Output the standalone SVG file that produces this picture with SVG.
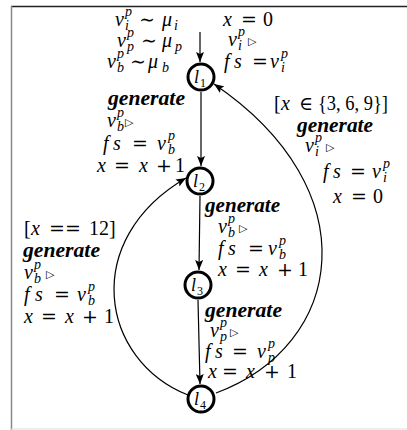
<svg xmlns="http://www.w3.org/2000/svg" width="407" height="430" viewBox="0 0 407 430">
<style>
.m{font-family:"Liberation Serif",serif;font-size:20px;fill:#000}
.i{font-style:italic}
.s{font-size:14px;font-style:italic}
.op{font-family:"DejaVu Serif",serif;font-size:19px}
.tri{font-family:"DejaVu Sans",sans-serif;font-size:11px}
.g{font-weight:bold;font-style:italic}
.node{fill:#fff;stroke:#000;stroke-width:3}
.lab{font-family:"Liberation Serif",serif;font-size:18px;font-style:italic}
.labs{font-size:12px;font-style:normal}
.edge{fill:none;stroke:#000;stroke-width:1.2;marker-end:url(#ah)}
</style>
<defs>
<marker id="ah" viewBox="0 0 10 8" refX="10" refY="4" markerWidth="10" markerHeight="8" markerUnits="userSpaceOnUse" orient="auto">
<path d="M0,0 L10,4 L0,8 L2,4 z" fill="#000"/>
</marker>
</defs>
<rect width="407" height="430" fill="#fff"/>
<line x1="11" y1="6.5" x2="407" y2="6.5" stroke="#222" stroke-width="1.5"/>
<line x1="11.5" y1="6" x2="11.5" y2="430" stroke="#888" stroke-width="1.5"/>
<line x1="11" y1="429" x2="407" y2="429" stroke="#ddd" stroke-width="1"/>

<g id="connectors">
<line class="edge" x1="200" y1="32" x2="200" y2="62"/>
<line class="edge" x1="201" y1="92" x2="201" y2="166"/>
<line class="edge" x1="200" y1="196" x2="199" y2="270"/>
<line class="edge" x1="198" y1="300" x2="200" y2="384"/>
<path class="edge" d="M216,393 C345,345 370,190 214,84"/>
<path class="edge" d="M188,395 C100,360 80,240 186,178"/>
</g>

<g id="l1"><circle class="node" cx="201" cy="77" r="13"/><text class="lab"><tspan x="194" y="83">l</tspan><tspan class="labs" x="200" y="87">1</tspan></text></g>
<g id="l2"><circle class="node" cx="200" cy="181" r="13"/><text class="lab"><tspan x="193" y="187">l</tspan><tspan class="labs" x="199" y="191">2</tspan></text></g>
<g id="l3"><circle class="node" cx="198" cy="285" r="13"/><text class="lab"><tspan x="191" y="291">l</tspan><tspan class="labs" x="197" y="295">3</tspan></text></g>
<g id="l4"><circle class="node" cx="201" cy="399" r="13"/><text class="lab"><tspan x="194" y="405">l</tspan><tspan class="labs" x="200" y="409">4</tspan></text></g>

<g id="labels">
<!-- block A -->
<text class="m"><tspan class="i" x="115" y="26">v</tspan><tspan class="s" x="125" y="16">p</tspan><tspan class="s" x="125" y="30">i</tspan><tspan class="op" x="139" y="26">∼</tspan><tspan class="i" x="162" y="26">μ</tspan><tspan class="s" x="174" y="30">i</tspan></text>
<text class="m"><tspan class="i" x="117" y="47">v</tspan><tspan class="s" x="127" y="37">p</tspan><tspan class="s" x="127" y="51">p</tspan><tspan class="op" x="141" y="47">∼</tspan><tspan class="i" x="162" y="47">μ</tspan><tspan class="s" x="175" y="51">p</tspan></text>
<text class="m"><tspan class="i" x="107" y="68">v</tspan><tspan class="s" x="117" y="58">p</tspan><tspan class="s" x="117" y="72">b</tspan><tspan class="op" x="130" y="68">∼</tspan><tspan class="i" x="148" y="68">μ</tspan><tspan class="s" x="162" y="72">b</tspan></text>
<!-- block B -->
<text class="m"><tspan class="i" x="223" y="26">x</tspan><tspan class="op" x="241" y="26">=</tspan><tspan x="263" y="26">0</tspan></text>
<text class="m"><tspan class="i" x="228" y="46">v</tspan><tspan class="s" x="238" y="36">p</tspan><tspan class="s" x="238" y="50">i</tspan><tspan class="tri" x="248" y="45">▷</tspan></text>
<text class="m"><tspan class="i" x="224" y="68">f</tspan><tspan class="i" x="234" y="68">s</tspan><tspan class="op" x="252" y="68">=</tspan><tspan class="i" x="270" y="68">v</tspan><tspan class="s" x="281" y="58">p</tspan><tspan class="s" x="281" y="72">i</tspan></text>
<!-- block C -->
<text class="m g" x="108" y="105" textLength="77" lengthAdjust="spacingAndGlyphs">generate</text>
<text class="m"><tspan class="i" x="107" y="127">v</tspan><tspan class="s" x="117" y="117">p</tspan><tspan class="s" x="117" y="131">b</tspan><tspan class="tri" x="125" y="126">▷</tspan></text>
<text class="m"><tspan class="i" x="103" y="150">f</tspan><tspan class="i" x="113" y="150">s</tspan><tspan class="op" x="132" y="150">=</tspan><tspan class="i" x="157" y="150">v</tspan><tspan class="s" x="168" y="140">p</tspan><tspan class="s" x="168" y="154">b</tspan></text>
<text class="m"><tspan class="i" x="97" y="172">x</tspan><tspan class="op" x="114" y="172">=</tspan><tspan class="i" x="139" y="172">x</tspan><tspan class="op" x="156" y="172">+</tspan><tspan x="175" y="172">1</tspan></text>
<!-- block D -->
<text class="m"><tspan x="274" y="110">[</tspan><tspan class="i" x="281" y="110">x</tspan><tspan class="op" x="299" y="110">∈</tspan><tspan x="318" y="110" textLength="70" lengthAdjust="spacingAndGlyphs">{3, 6, 9}]</tspan></text>
<text class="m g" x="297" y="132" textLength="76" lengthAdjust="spacingAndGlyphs">generate</text>
<text class="m"><tspan class="i" x="305" y="152">v</tspan><tspan class="s" x="315" y="142">p</tspan><tspan class="s" x="315" y="156">i</tspan><tspan class="tri" x="326" y="151">▷</tspan></text>
<text class="m"><tspan class="i" x="323" y="178">f</tspan><tspan class="i" x="333" y="178">s</tspan><tspan class="op" x="350" y="178">=</tspan><tspan class="i" x="372" y="178">v</tspan><tspan class="s" x="383" y="168">p</tspan><tspan class="s" x="383" y="182">i</tspan></text>
<text class="m"><tspan class="i" x="333" y="203">x</tspan><tspan class="op" x="351" y="203">=</tspan><tspan x="373" y="203">0</tspan></text>
<!-- block E -->
<text class="m"><tspan x="24" y="235">[</tspan><tspan class="i" x="31" y="235">x</tspan><tspan class="op" x="49" y="235">==</tspan><tspan x="89" y="235">12]</tspan></text>
<text class="m g" x="23" y="257" textLength="77" lengthAdjust="spacingAndGlyphs">generate</text>
<text class="m"><tspan class="i" x="24" y="279">v</tspan><tspan class="s" x="34" y="269">p</tspan><tspan class="s" x="34" y="283">b</tspan><tspan class="tri" x="46" y="278">▷</tspan></text>
<text class="m"><tspan class="i" x="24" y="301">f</tspan><tspan class="i" x="35" y="301">s</tspan><tspan class="op" x="54" y="301">=</tspan><tspan class="i" x="77" y="301">v</tspan><tspan class="s" x="88" y="291">p</tspan><tspan class="s" x="88" y="305">b</tspan></text>
<text class="m"><tspan class="i" x="24" y="323">x</tspan><tspan class="op" x="41" y="323">=</tspan><tspan class="i" x="65" y="323">x</tspan><tspan class="op" x="82" y="323">+</tspan><tspan x="104" y="323">1</tspan></text>
<!-- block F -->
<text class="m g" x="205" y="212" textLength="75" lengthAdjust="spacingAndGlyphs">generate</text>
<text class="m"><tspan class="i" x="218" y="233">v</tspan><tspan class="s" x="228" y="223">p</tspan><tspan class="s" x="228" y="237">b</tspan><tspan class="tri" x="239" y="232">▷</tspan></text>
<text class="m"><tspan class="i" x="218" y="255">f</tspan><tspan class="i" x="228" y="255">s</tspan><tspan class="op" x="248" y="255">=</tspan><tspan class="i" x="268" y="255">v</tspan><tspan class="s" x="279" y="245">p</tspan><tspan class="s" x="279" y="259">b</tspan></text>
<text class="m"><tspan class="i" x="218" y="276">x</tspan><tspan class="op" x="235" y="276">=</tspan><tspan class="i" x="259" y="276">x</tspan><tspan class="op" x="277" y="276">+</tspan><tspan x="298" y="276">1</tspan></text>
<!-- block G -->
<text class="m g" x="205" y="317" textLength="77" lengthAdjust="spacingAndGlyphs">generate</text>
<text class="m"><tspan class="i" x="210" y="337">v</tspan><tspan class="s" x="220" y="327">p</tspan><tspan class="s" x="220" y="341">p</tspan><tspan class="tri" x="230" y="336">▷</tspan></text>
<text class="m"><tspan class="i" x="205" y="358">f</tspan><tspan class="i" x="215" y="358">s</tspan><tspan class="op" x="232" y="358">=</tspan><tspan class="i" x="257" y="358">v</tspan><tspan class="s" x="268" y="348">p</tspan><tspan class="s" x="268" y="362">p</tspan></text>
<text class="m"><tspan class="i" x="208" y="378">x</tspan><tspan class="op" x="222" y="378">=</tspan><tspan class="i" x="246" y="378">x</tspan><tspan class="op" x="264" y="378">+</tspan><tspan x="287" y="378">1</tspan></text>
</g>
</svg>
